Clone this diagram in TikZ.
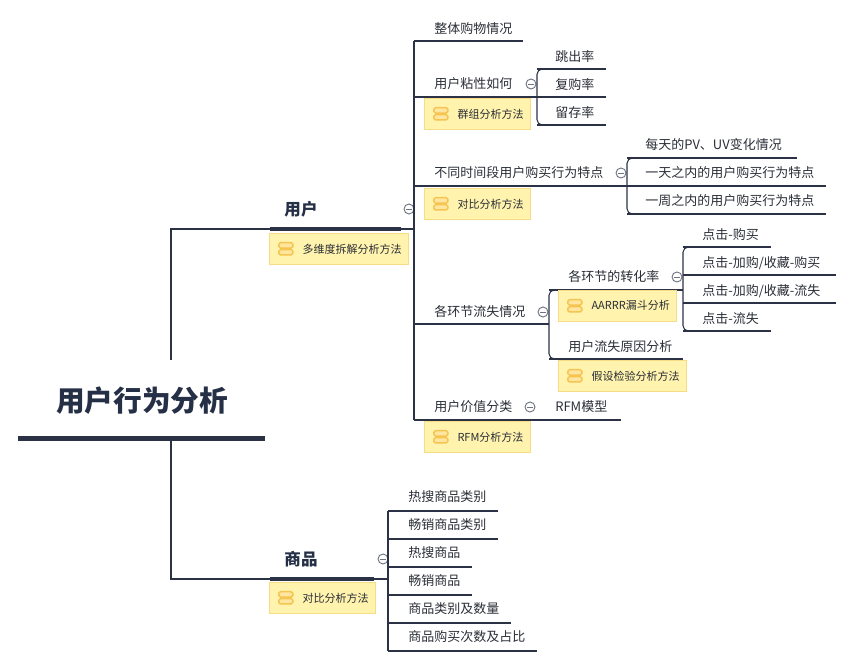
\documentclass[tikz,border=0pt]{standalone}
\usepackage{fontspec}
\newfontfamily\cjk{Noto Sans CJK SC}
\definecolor{lc}{HTML}{2B3245}
\definecolor{navy}{HTML}{253046}
\definecolor{tc}{HTML}{2A2E36}
\definecolor{tagf}{HTML}{FFF3AE}
\definecolor{tagb}{HTML}{F6DC84}
\definecolor{iconf}{HTML}{FFE6A0}
\definecolor{iconb}{HTML}{F5C451}
\definecolor{cg}{HTML}{6E7582}
\begin{document}
\begin{tikzpicture}[x=0.75pt,y=-0.75pt,
  ln/.style={draw=lc,line width=0.8pt},
  thickbar/.style={draw=lc,line width=3pt},
  txt/.style={anchor=west,inner sep=0,font=\cjk\fontsize{9.75}{11}\selectfont,text=tc},
  main/.style={inner sep=0,font=\cjk\bfseries\fontsize{12.4}{14}\selectfont,text=navy},
  tag/.style={anchor=north west,fill=tagf,draw=tagb,line width=0.75pt,minimum height=23pt,
    inner xsep=0,inner ysep=0,font=\cjk\fontsize{8.25}{10}\selectfont,text=tc,
    execute at begin node={\hspace*{24.75pt}},execute at end node={\hspace*{5.25pt}},
    path picture={
      \draw[fill=iconf,draw=iconb,line width=1.1pt,rounded corners=1.2pt]
        ([xshift=7pt,yshift=0.6pt]path picture bounding box.west) rectangle ++(10.5pt,4pt);
      \draw[fill=iconf,draw=iconb,line width=1.1pt,rounded corners=1.2pt]
        ([xshift=7pt,yshift=-0.6pt]path picture bounding box.west) rectangle ++(10.5pt,-4pt);
    }},
  fold/.style={circle,draw=cg,fill=white,line width=0.7pt,minimum size=7.5pt,inner sep=0,
    path picture={\draw[cg,line width=0.7pt]
      ([xshift=-2.2pt]path picture bounding box.center) -- ([xshift=2.2pt]path picture bounding box.center);}},
  brk/.style={draw=lc,line width=0.8pt,rounded corners=4pt}
]
\useasboundingbox (0,0) rectangle (852,666);

% ---------------- root ----------------
\node[inner sep=0,font=\cjk\bfseries\fontsize{21.5}{24}\selectfont,text=navy] (root) at (142,401) {用户行为分析};
\coordinate (rootL) at (18,438);
\coordinate (rootR) at (265,438);
\draw[draw=lc,line width=3.75pt] (rootL) -- (rootR);
\coordinate (rootTop) at (171,360);
\coordinate (rootBot) at (171,441);

% ---------------- 用户 ----------------
\node[main] (u) at (301,209) {用户};
\coordinate (uL) at (270,229);
\coordinate (uR) at (401,229);
\coordinate (uS) at (414,229);
\draw[ln] (rootTop) |- (uL);
\draw[thickbar] (uL) -- (uR);
\draw[ln] (uR) -- (uS);
\node[fold] (uf) at (409,209) {};
\node[tag] (ut) at (269,233) {多维度拆解分析方法};

% spine
\coordinate (sTop) at (414,41);
\coordinate (sBot) at (414,420);
\draw[ln] (sTop) -- (sBot);

% 整体购物情况
\node[txt] (a1) at (434,29) {整体购物情况};
\draw[ln] (414,41) -- (523,41);

% 用户粘性如何
\node[txt] (a2) at (434,84) {用户粘性如何};
\draw[ln] (414,97) -- (537,97);
\node[fold] (a2f) at (531,84) {};
\node[tag] (a2t) at (424,98) {群组分析方法};
\draw[brk] (560,69) -- (537,69) -- (537,125) -- (560,125);
\draw[ln] (537,69) -- (606,69);
\draw[ln] (537,97) -- (606,97);
\draw[ln] (537,125) -- (606,125);
\node[txt] (b1) at (555,57) {跳出率};
\node[txt] (b2) at (555,85) {复购率};
\node[txt] (b3) at (555,113) {留存率};

% 不同时间段用户购买行为特点
\node[txt] (a3) at (434,173) {不同时间段用户购买行为特点};
\draw[ln] (414,186) -- (627,186);
\node[fold] (a3f) at (621,173) {};
\node[tag] (a3t) at (424,188) {对比分析方法};
\draw[brk] (650,158) -- (627,158) -- (627,214) -- (650,214);
\draw[ln] (627,158) -- (797,158);
\draw[ln] (627,186) -- (826,186);
\draw[ln] (627,214) -- (826,214);
\node[txt] (c1) at (645,145) {每天的PV、UV变化情况};
\node[txt] (c2) at (645,173) {一天之内的用户购买行为特点};
\node[txt] (c3) at (645,201) {一周之内的用户购买行为特点};

% 各环节流失情况
\node[txt] (a4) at (434,312) {各环节流失情况};
\draw[ln] (414,324) -- (549,324);
\node[fold] (a4f) at (543,312) {};
\draw[brk] (570,290) -- (549,290) -- (549,359) -- (570,359);
\draw[ln] (549,290) -- (683,290);
\draw[ln] (549,359) -- (683,359);
\node[txt] (d1) at (568,277) {各环节的转化率};
\node[fold] (d1f) at (677,277) {};
\node[tag] (d1t) at (558,290) {AARRR漏斗分析};
\node[txt] (d2) at (568,347) {用户流失原因分析};
\node[tag] (d2t) at (558,360) {假设检验分析方法};
\draw[brk] (705,247) -- (683,247) -- (683,331) -- (705,331);
\draw[ln] (683,247) -- (771,247);
\draw[ln] (683,275) -- (836,275);
\draw[ln] (683,303) -- (836,303);
\draw[ln] (683,331) -- (771,331);
\node[txt] (e1) at (702,235) {点击-购买};
\node[txt] (e2) at (702,263) {点击-加购/收藏-购买};
\node[txt] (e3) at (702,291) {点击-加购/收藏-流失};
\node[txt] (e4) at (702,319) {点击-流失};

% 用户价值分类
\node[txt] (a5) at (434,407) {用户价值分类};
\draw[ln] (414,420) -- (621,420);
\node[fold] (a5f) at (530,407) {};
\node[txt] (f1) at (555,407) {RFM模型};
\node[tag] (a5t) at (424,421) {RFM分析方法};

% ---------------- 商品 ----------------
\node[main] (g) at (301,559) {商品};
\coordinate (gL) at (270,579);
\coordinate (gR) at (374,579);
\coordinate (gS) at (388,579);
\draw[ln] (rootBot) |- (gL);
\draw[thickbar] (gL) -- (gR);
\draw[ln] (gR) -- (gS);
\node[fold] (gf) at (383,559) {};
\node[tag] (gt) at (269,582) {对比分析方法};
\draw[ln] (388,511) -- (388,651);
\draw[ln] (388,511) -- (498,511);
\draw[ln] (388,539) -- (498,539);
\draw[ln] (388,567) -- (472,567);
\draw[ln] (388,595) -- (472,595);
\draw[ln] (388,623) -- (511,623);
\draw[ln] (388,651) -- (537,651);
\node[txt] (h1) at (408,497) {热搜商品类别};
\node[txt] (h2) at (408,525) {畅销商品类别};
\node[txt] (h3) at (408,553) {热搜商品};
\node[txt] (h4) at (408,581) {畅销商品};
\node[txt] (h5) at (408,609) {商品类别及数量};
\node[txt] (h6) at (408,637) {商品购买次数及占比};
\end{tikzpicture}
\end{document}
